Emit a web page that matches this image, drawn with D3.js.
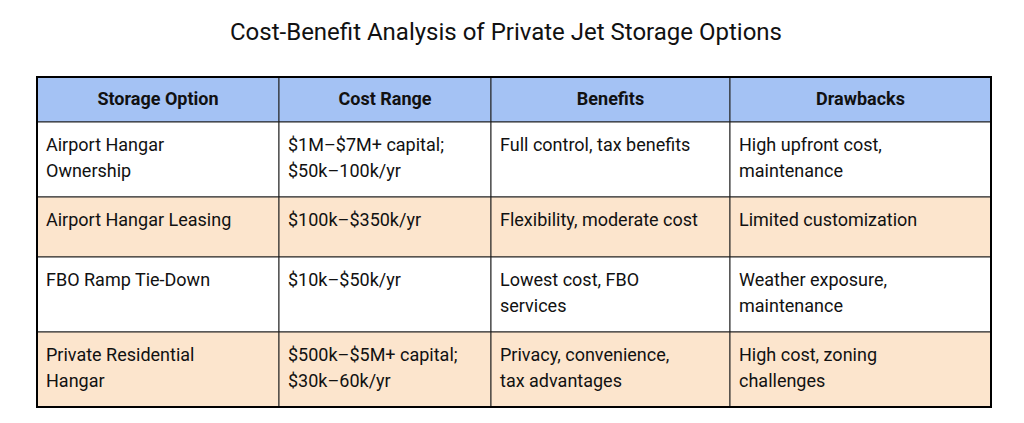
<!DOCTYPE html>
<html><head><meta charset="utf-8">
<script src="https://cdn.jsdelivr.net/npm/d3@7"></script>
<style>body{margin:0;background:#fff}</style></head>
<body><svg id="c" width="1024" height="423"></svg>
<script>
const title = "Cost-Benefit Analysis of Private Jet Storage Options";
const headers = ["Storage Option", "Cost Range", "Benefits", "Drawbacks"];
const options = ["Airport Hangar\nOwnership", "Airport Hangar Leasing", "FBO Ramp Tie-Down", "Private Residential\nHangar"];
const costs = ["$1M–$7M+ capital;\n$50k–100k/yr", "$100k–$350k/yr", "$10k–$50k/yr", "$500k–$5M+ capital;\n$30k–60k/yr"];
const benefits = ["Full control, tax benefits", "Flexibility, moderate cost", "Lowest cost, FBO\nservices", "Privacy, convenience,\ntax advantages"];
const drawbacks = ["High upfront cost,\nmaintenance", "Limited customization", "Weather exposure,\nmaintenance", "High cost, zoning\nchallenges"];

const colEdges = [37, 279, 491, 730, 991];
const rowEdges = [77, 122, 197, 257, 332, 407];
const font = "Roboto, Arial, sans-serif";
const svg = d3.select("#c");
svg.append("text").attr("x",506).attr("y",40).attr("text-anchor","middle")
  .attr("font-family",font).attr("font-size",24).attr("fill","#111").text(title);

const rows = options.map((o,i)=>[o,costs[i],benefits[i],drawbacks[i]]);
const g = svg.append("g");
headers.forEach((h,j)=>{
  g.append("rect").attr("x",colEdges[j]).attr("y",rowEdges[0]).attr("width",colEdges[j+1]-colEdges[j])
   .attr("height",rowEdges[1]-rowEdges[0]).attr("fill","#a4c2f4").attr("stroke","#222").attr("stroke-width",1);
  g.append("text").attr("x",(colEdges[j]+colEdges[j+1])/2).attr("y",rowEdges[0]+28).attr("text-anchor","middle")
   .attr("font-family",font).attr("font-weight","bold").attr("font-size",18).attr("fill","#111").text(h);
});
rows.forEach((r,i)=>{
  r.forEach((cell,j)=>{
    const y0=rowEdges[i+1], y1=rowEdges[i+2];
    g.append("rect").attr("x",colEdges[j]).attr("y",y0).attr("width",colEdges[j+1]-colEdges[j])
     .attr("height",y1-y0).attr("fill",i%2?"#fce5cd":"#ffffff").attr("stroke","#222").attr("stroke-width",1);
    const t=g.append("text").attr("font-family",font).attr("font-size",18).attr("fill","#111");
    cell.split("\n").forEach((ln,k)=>t.append("tspan").attr("x",colEdges[j]+9).attr("y",y0+29+k*26).text(ln));
  });
});
g.append("rect").attr("x",colEdges[0]).attr("y",rowEdges[0]).attr("width",colEdges[4]-colEdges[0])
 .attr("height",rowEdges[5]-rowEdges[0]).attr("fill","none").attr("stroke","#000").attr("stroke-width",2);
</script></body></html>
